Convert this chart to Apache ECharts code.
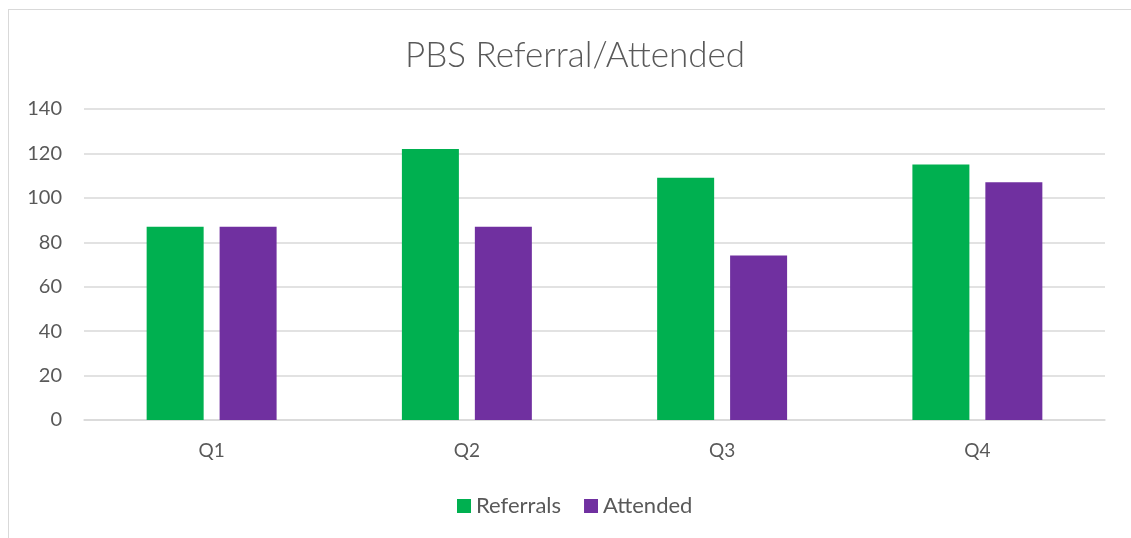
<!DOCTYPE html>
<html>
<head>
<meta charset="utf-8">
<script src="https://cdn.jsdelivr.net/npm/echarts@6/dist/echarts.min.js"></script>
<style>
  html, body { margin: 0; padding: 0; background: #fff; overflow: hidden; }
  .frame {
    position: absolute; left: 8px; top: 9px; width: 1140px; height: 540px;
    border-left: 1px solid #d9d9d9; border-top: 1px solid #d9d9d9;
  }
  #chart { position: absolute; left: 0; top: 0; width: 1131px; height: 538px; }
</style>
</head>
<body>
<div class="frame"></div>
<div id="chart"></div>
<script>
  const categories = ["Q1", "Q2", "Q3", "Q4"];
  const referrals = [87, 122, 109, 115];
  const attended = [87, 87, 74, 107];

  const textColor = "#595959";
  const font = "Lato, 'Open Sans', sans-serif";

  const chart = echarts.init(document.getElementById("chart"));
  const option = {
    animation: false,
    title: {
      text: "PBS Referral/Attended",
      left: 570,
      top: 33,
      textAlign: "center",
      textStyle: { color: textColor, fontSize: 35, fontWeight: 300, fontFamily: font },
    },
    legend: {
      data: ["Referrals", "Attended"],
      left: 452,
      top: 490,
      itemWidth: 14,
      itemHeight: 14,
      itemGap: 23,
      icon: "rect",
      textStyle: { color: textColor, fontSize: 22, fontFamily: font },
    },
    grid: { left: 84, right: 26, top: 109, bottom: 118 },
    xAxis: {
      type: "category",
      data: categories,
      axisLine: { lineStyle: { color: "#d9d9d9", width: 1.5 } },
      axisTick: { show: false },
      axisLabel: { color: textColor, fontSize: 19, fontFamily: font, margin: 21 },
    },
    yAxis: {
      type: "value",
      min: 0,
      max: 140,
      interval: 20,
      axisLine: { show: false },
      axisTick: { show: false },
      splitLine: { lineStyle: { color: "#d9d9d9", width: 1.5 } },
      axisLabel: { color: textColor, fontSize: 20, fontFamily: font, margin: 22 },
    },
    series: [
      {
        name: "Referrals",
        type: "bar",
        data: referrals,
        barWidth: 57,
        barGap: "28%",
        itemStyle: { color: "#00B050" },
      },
      {
        name: "Attended",
        type: "bar",
        data: attended,
        barWidth: 57,
        itemStyle: { color: "#7030A0" },
      },
    ],
  };
  chart.setOption(option);
</script>
</body>
</html>
